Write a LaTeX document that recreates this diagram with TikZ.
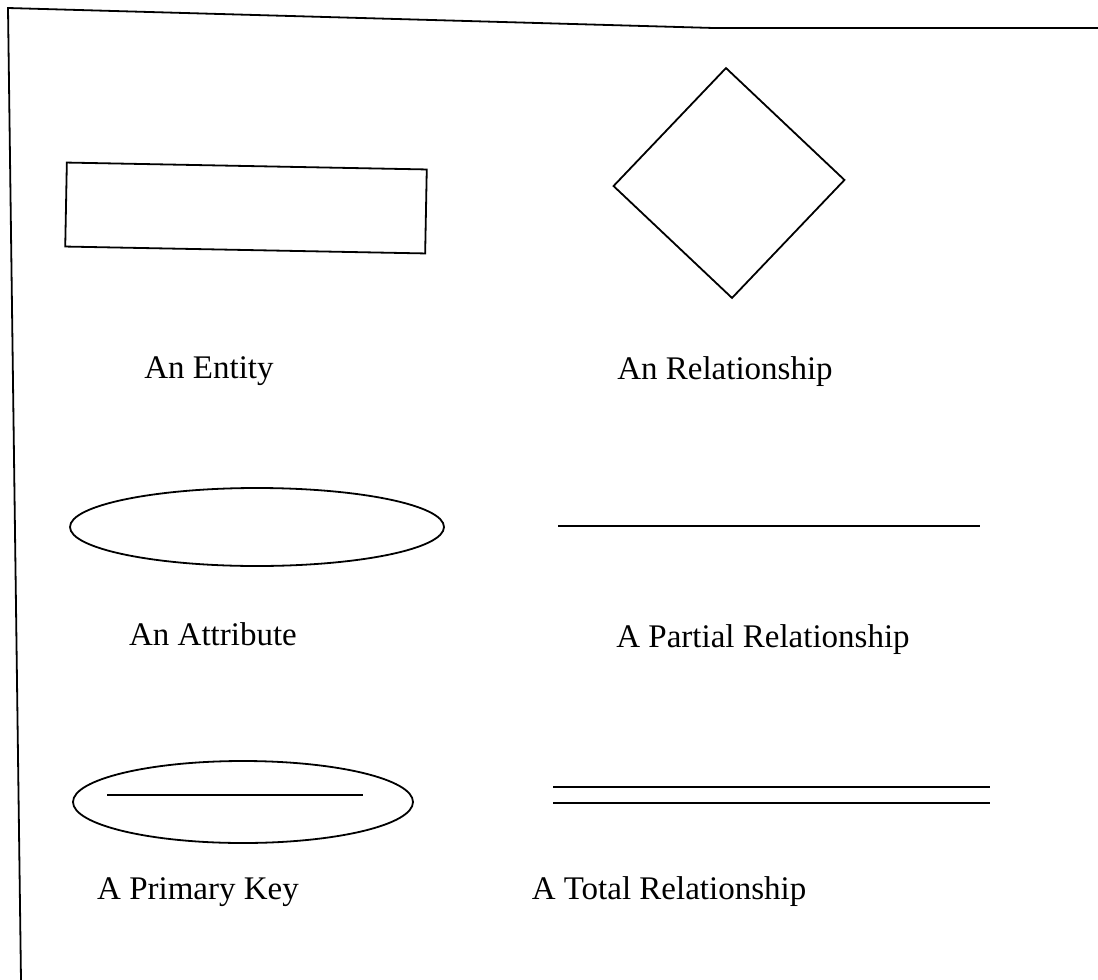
\documentclass[tikz,border=0pt]{standalone}
\usepackage{fontspec}
\setmainfont{Liberation Serif}
\usetikzlibrary{shapes.geometric}
\begin{document}
\begin{tikzpicture}[x=1pt,y=-1pt,line width=1.8pt,
  lbl/.style={font=\fontsize{33}{39}\selectfont,inner sep=0pt,anchor=base},
  shp/.style={draw,inner sep=0pt,outer sep=0pt}]
\useasboundingbox (0,0) rectangle (1098,980);
% frame
\coordinate (fb) at (21,980);
\coordinate (fc) at (8,8);
\coordinate (fm) at (714,28);
\coordinate (fr) at (1098,28);
\draw (fb) -- (fc) -- (fm) -- (fr);
% entity
\node[shp,rectangle,minimum width=360pt,minimum height=84pt,rotate=-1.1] (ent) at (246,208) {};
\node[lbl] (tent) at (209,378) {An Entity};
% relationship
\node[shp,diamond,minimum width=231pt,minimum height=230pt,rotate=1.5] (rel) at (729,183) {};
\node[lbl] (trel) at (725,379) {An Relationship};
% attribute
\node[shp,ellipse,minimum width=374pt,minimum height=78pt] (att) at (257,527) {};
\node[lbl] (tatt) at (213,645) {An Attribute};
% partial
\coordinate (p1) at (558,526);
\coordinate (p2) at (980,526);
\draw (p1) -- (p2);
\node[lbl] (tpar) at (763,647) {A Partial Relationship};
% primary key
\node[shp,ellipse,minimum width=340pt,minimum height=82pt] (pk) at (243,802) {};
\coordinate (k1) at (107,795);
\coordinate (k2) at (363,795);
\draw (k1) -- (k2);
\node[lbl] (tpk) at (198,899) {A Primary Key};
% total
\coordinate (t1) at (553,787);
\coordinate (t2) at (990,787);
\coordinate (t3) at (553,803);
\coordinate (t4) at (990,803);
\draw (t1) -- (t2);
\draw (t3) -- (t4);
\node[lbl] (ttot) at (669,899) {A Total Relationship};
\end{tikzpicture}
\end{document}
